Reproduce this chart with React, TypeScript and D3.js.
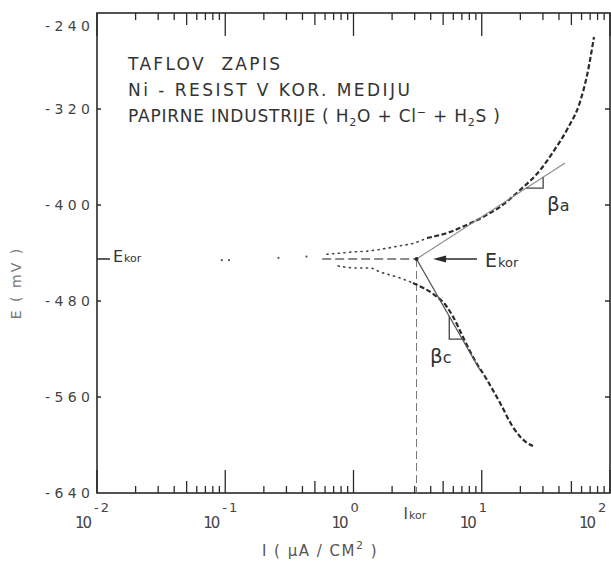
import React, { useEffect, useRef } from 'react'
import * as d3 from 'd3'

const W = 611
const H = 562
const LEFT = 97
const RIGHT = 610
const TOP = 13
const BOTTOM = 493

// axes
const currentDomain = [0.01, 100]
const potentialDomain = [-640, -240]
const decadeExps = [-2, -1, 0, 1, 2]
const potentialTicks = [-240, -320, -400, -480, -560, -640]

// corrosion point
const eKor = -445
const iKor = 3.1

// loose points left of the curve
const strayI = [0.094, 0.107, 0.26, 0.43]
const strayE = [-446, -446, -444, -443]

// anodic branch (I in uA/cm2, E in mV)
const anodicI = [0.62, 0.81, 1.03, 1.27, 1.61, 2.31, 2.91, 3.74, 4.73, 5.65, 7.67, 10.2, 13.9, 19.9, 28.5, 35.9, 46.3, 58.4, 66.2, 75.0]
const anodicE = [-441, -440, -439, -438.5, -437, -434, -432, -427.5, -425, -422.5, -416.5, -410, -401.5, -387.5, -371, -356, -337, -314, -292, -260]

// cathodic branch
const cathodicI = [0.757, 1.06, 1.35, 1.61, 1.93, 2.31, 2.91, 3.48, 4.17, 5.36, 5.97, 7.14, 8.55, 11.0, 13.9, 17.5, 22.6, 25.1]
const cathodicE = [-450.8, -452.5, -452.5, -455.8, -458.3, -460.8, -465, -469, -474, -485, -493, -510, -526.7, -545.8, -565, -585, -598.3, -600.8]

// Tafel lines
const anodicTafelI = [iKor, 44.6]
const anodicTafelE = [eKor, -365]
const cathodicTafelI = [iKor, 9.68]
const cathodicTafelE = [eKor, -537.5]

// slope triangles
const betaAI = [22.2, 30.1]
const betaCI = [5.58, 7.05]

// where the dotted look turns dashed
const anodicSplit = 7
const cathodicSplit = 6

const titleLines = ['TAFLOV  ZAPIS', 'Ni - RESIST V KOR. MEDIJU']
const titleWidths = [152, 282, 372]

export default function App() {
  const ref = useRef<SVGSVGElement>(null)

  useEffect(() => {
    const svg = d3.select(ref.current)
    svg.selectAll('*').remove()

    const x = d3.scaleLog().domain(currentDomain).range([LEFT, RIGHT])
    const y = d3.scaleLinear().domain(potentialDomain).range([BOTTOM, TOP])

    const ink = '#2a2a2a'
    const font = 'DejaVu Sans, sans-serif'

    const tafelAt = (ti: number[], te: number[], i: number) => {
      const t = (Math.log10(i) - Math.log10(ti[0])) / (Math.log10(ti[1]) - Math.log10(ti[0]))
      return te[0] + t * (te[1] - te[0])
    }

    const line = d3.line<number[]>()
      .x(d => x(d[0]))
      .y(d => y(d[1]))
      .curve(d3.curveMonotoneX)

    const anodic = anodicI.map((v, k) => [v, anodicE[k]])
    const cathodic = cathodicI.map((v, k) => [v, cathodicE[k]])

    // frame
    svg.append('rect')
      .attr('x', LEFT).attr('y', TOP)
      .attr('width', RIGHT - LEFT).attr('height', BOTTOM - TOP)
      .attr('fill', 'none').attr('stroke', ink).attr('stroke-width', 1.6)

    // x ticks, bottom and top, pointing in
    const xt = x.ticks()
    const tickLen = (v: number) => {
      const m = Math.round(v / Math.pow(10, Math.floor(Math.log10(v) + 1e-9)))
      return m === 1 ? 23 : m === 5 ? 12 : 7
    }
    svg.append('g').selectAll('line.b').data(xt).enter().append('line')
      .attr('x1', d => x(d)).attr('x2', d => x(d))
      .attr('y1', BOTTOM).attr('y2', d => BOTTOM - tickLen(d))
      .attr('stroke', ink).attr('stroke-width', 1.3)
    svg.append('g').selectAll('line.t').data(xt).enter().append('line')
      .attr('x1', d => x(d)).attr('x2', d => x(d))
      .attr('y1', TOP).attr('y2', d => TOP + tickLen(d))
      .attr('stroke', ink).attr('stroke-width', 1.3)

    // x tick labels 10^n
    const xl = svg.append('g').attr('font-family', font).attr('fill', '#444')
    decadeExps.forEach(n => {
      const ex = Math.min(x(Math.pow(10, n)) - 3, 598)
      xl.append('text').attr('x', ex - 2).attr('y', 528)
        .attr('text-anchor', 'end').attr('font-size', 15)
        .attr('textLength', 17).attr('lengthAdjust', 'spacing')
        .text('10')
      const lbl = n < 0 ? '-' + Math.abs(n) : String(n)
      xl.append('text').attr('x', ex).attr('y', 512)
        .attr('font-size', 13).attr('letter-spacing', n < 0 ? 2 : 0)
        .text(lbl)
    })

    // y ticks
    svg.append('g').selectAll('line').data(potentialTicks.slice(1, -1)).enter().append('line')
      .attr('x1', LEFT).attr('x2', LEFT + 4)
      .attr('y1', d => y(d)).attr('y2', d => y(d))
      .attr('stroke', ink).attr('stroke-width', 1.5)
    svg.append('g').selectAll('line').data(potentialTicks.slice(1, -1)).enter().append('line')
      .attr('x1', RIGHT).attr('x2', RIGHT - 5)
      .attr('y1', d => y(d)).attr('y2', d => y(d))
      .attr('stroke', ink).attr('stroke-width', 1.5)
    svg.append('g').attr('font-family', font).attr('fill', '#444').attr('font-size', 14)
      .selectAll('text').data(potentialTicks).enter().append('text')
      .attr('x', 90)
      .attr('y', d => Math.min(Math.max(y(d), TOP + 13), BOTTOM) + 5)
      .attr('text-anchor', 'end')
      .attr('textLength', 45).attr('lengthAdjust', 'spacing')
      .text(d => String(d))

    // axis titles
    svg.append('text')
      .attr('transform', `translate(21, ${y(-465)}) rotate(-90)`)
      .attr('text-anchor', 'middle').attr('font-family', font)
      .attr('font-size', 14).attr('fill', '#777').attr('letter-spacing', 2)
      .text('E ( mV )')
    const xt2 = svg.append('text').attr('x', 320).attr('y', 556)
      .attr('text-anchor', 'middle').attr('font-family', font)
      .attr('font-size', 15).attr('fill', '#555').attr('letter-spacing', 1.5)
    xt2.append('tspan').text('I ( μA / CM')
    xt2.append('tspan').attr('dy', -7).attr('font-size', 11).text('2')
    xt2.append('tspan').attr('dy', 7).text(' )')

    // title block
    const tb = svg.append('g').attr('font-family', font).attr('fill', '#333')
      .attr('font-size', 17)
    titleLines.forEach((t, k) => {
      tb.append('text').attr('x', 128).attr('y', 70 + k * 26).attr('xml:space', 'preserve')
        .attr('textLength', titleWidths[k]).attr('lengthAdjust', 'spacing')
        .text(t)
    })
    const l3 = tb.append('text').attr('x', 128).attr('y', 122).attr('xml:space', 'preserve')
      .attr('textLength', titleWidths[2]).attr('lengthAdjust', 'spacing')
    l3.append('tspan').text('PAPIRNE INDUSTRIJE ( H')
    l3.append('tspan').attr('dy', 4).attr('font-size', 11).text('2')
    l3.append('tspan').attr('dy', -4).text('O + Cl')
    l3.append('tspan').attr('dy', -6).attr('font-size', 11).text('−')
    l3.append('tspan').attr('dy', 6).text(' + H')
    l3.append('tspan').attr('dy', 4).attr('font-size', 11).text('2')
    l3.append('tspan').attr('dy', -4).text('S )')

    // Icorr vertical guide
    svg.append('line')
      .attr('x1', x(iKor)).attr('x2', x(iKor))
      .attr('y1', y(eKor)).attr('y2', BOTTOM)
      .attr('stroke', '#777').attr('stroke-width', 1).attr('stroke-dasharray', '8 4')

    // Ekor horizontal guide
    svg.append('line')
      .attr('x1', x(0.57)).attr('x2', x(iKor))
      .attr('y1', y(eKor)).attr('y2', y(eKor))
      .attr('stroke', '#666').attr('stroke-width', 1.4).attr('stroke-dasharray', '9 4')

    // stray points
    svg.append('g').selectAll('circle').data(strayI).enter().append('circle')
      .attr('cx', d => x(d)).attr('cy', (d, k) => y(strayE[k]))
      .attr('r', 1.1).attr('fill', '#555')

    // dotted parts near Ekor, dashed beyond
    const dotted = { stroke: '#444', 'stroke-width': 1.6, 'stroke-dasharray': '1.2 4.5', 'stroke-linecap': 'round' }
    const dashed = { stroke: ink, 'stroke-width': 2.2, 'stroke-dasharray': '5 2.5' }
    const drawPath = (pts: number[][], st: Record<string, string | number>) => {
      const p = svg.append('path').attr('d', line(pts)).attr('fill', 'none')
      Object.entries(st).forEach(([k, v]) => p.attr(k, v))
    }
    drawPath(anodic.slice(0, anodicSplit + 1), dotted)
    drawPath(anodic.slice(anodicSplit), dashed)
    drawPath(cathodic.slice(0, cathodicSplit + 1), dotted)
    drawPath(cathodic.slice(cathodicSplit), dashed)

    // Tafel lines
    svg.append('line')
      .attr('x1', x(anodicTafelI[0])).attr('y1', y(anodicTafelE[0]))
      .attr('x2', x(anodicTafelI[1])).attr('y2', y(anodicTafelE[1]))
      .attr('stroke', '#888').attr('stroke-width', 1.1)
    svg.append('line')
      .attr('x1', x(cathodicTafelI[0])).attr('y1', y(cathodicTafelE[0]))
      .attr('x2', x(cathodicTafelI[1])).attr('y2', y(cathodicTafelE[1]))
      .attr('stroke', '#555').attr('stroke-width', 1.3)

    // slope triangles
    const aE0 = tafelAt(anodicTafelI, anodicTafelE, betaAI[0])
    const aE1 = tafelAt(anodicTafelI, anodicTafelE, betaAI[1])
    svg.append('path')
      .attr('d', `M${x(betaAI[0])},${y(aE0)}L${x(betaAI[1])},${y(aE0)}L${x(betaAI[1])},${y(aE1)}`)
      .attr('fill', 'none').attr('stroke', '#444').attr('stroke-width', 1.3)
    const cE0 = tafelAt(cathodicTafelI, cathodicTafelE, betaCI[0])
    const cE1 = tafelAt(cathodicTafelI, cathodicTafelE, betaCI[1])
    svg.append('path')
      .attr('d', `M${x(betaCI[0])},${y(cE0)}L${x(betaCI[0])},${y(cE1)}L${x(betaCI[1])},${y(cE1)}`)
      .attr('fill', 'none').attr('stroke', '#444').attr('stroke-width', 1.3)

    // corrosion point
    svg.append('circle').attr('cx', x(iKor)).attr('cy', y(eKor)).attr('r', 2).attr('fill', ink)

    // arrow + Ekor label on the right
    const ax0 = x(4.17), ax1 = x(9.18), ay = y(eKor)
    svg.append('line').attr('x1', ax0 + 8).attr('x2', ax1).attr('y1', ay).attr('y2', ay)
      .attr('stroke', ink).attr('stroke-width', 1.3)
    svg.append('path').attr('d', `M${ax0},${ay}L${ax0 + 13},${ay - 3.5}L${ax0 + 13},${ay + 3.5}Z`).attr('fill', ink)
    const ekR = svg.append('text').attr('x', x(10.6)).attr('y', ay + 8)
      .attr('font-family', font).attr('fill', '#333')
    ekR.append('tspan').attr('font-size', 19).text('E')
    ekR.append('tspan').attr('font-size', 13).attr('dx', 1).text('kor')

    // Ekor marker on the left axis
    svg.append('line').attr('x1', LEFT).attr('x2', LEFT + 13).attr('y1', ay).attr('y2', ay)
      .attr('stroke', ink).attr('stroke-width', 1.5)
    const ekL = svg.append('text').attr('x', 113).attr('y', ay + 3)
      .attr('font-family', font).attr('fill', '#333')
    ekL.append('tspan').attr('font-size', 16).text('E')
    ekL.append('tspan').attr('font-size', 11).attr('dx', 1).text('kor')

    // Ikor label below axis
    const ik = svg.append('text').attr('x', x(iKor) - 13).attr('y', 519)
      .attr('font-family', font).attr('fill', '#444')
    ik.append('tspan').attr('font-size', 15).text('I')
    ik.append('tspan').attr('font-size', 11).attr('dx', 1).text('kor')

    // beta labels
    const ba = svg.append('text').attr('x', x(32.3)).attr('y', y(-400) + 6)
      .attr('font-family', font).attr('fill', '#333')
    ba.append('tspan').attr('font-size', 20).text('β')
    ba.append('tspan').attr('font-size', 16).text('a')
    const bc = svg.append('text').attr('x', x(3.95)).attr('y', y(-526.7) + 6)
      .attr('font-family', font).attr('fill', '#333')
    bc.append('tspan').attr('font-size', 20).text('β')
    bc.append('tspan').attr('font-size', 16).text('c')
  }, [])

  return (
    <svg ref={ref} width={W} height={H}
      style={{ position: 'absolute', left: 0, top: 0, background: '#fff' }} />
  )
}
